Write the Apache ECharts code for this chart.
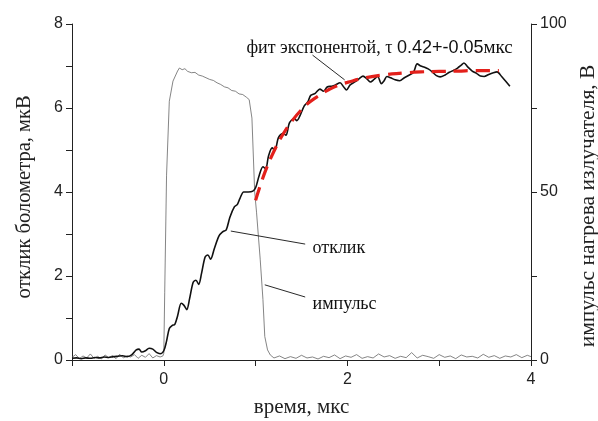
<!DOCTYPE html>
<html>
<head>
<meta charset="utf-8">
<script src="https://cdn.jsdelivr.net/npm/echarts@6/dist/echarts.min.js"></script>
<style>
html,body{margin:0;padding:0;background:#fff;}
#chart{width:598px;height:421px;}
</style>
</head>
<body>
<div id="chart"></div>
<script>
// ---- data ----
var xTicks = [-1, 0, 1, 2, 3, 4];
var xLabels = ['', '0', '', '2', '', '4'];
var leftLabels = ['0', '', '2', '', '4', '', '6', '', '8'];
var rightLabels = {0: '0', 50: '50', 100: '100'};

// bolometer response, мкВ (left axis)
var responseX = [-1.00,-0.95,-0.90,-0.85,-0.80,-0.75,-0.70,-0.65,-0.60,-0.55,-0.50,-0.45,-0.40,-0.35,-0.30,-0.27,-0.24,-0.20,-0.16,-0.12,-0.08,-0.04,0.00,0.03,0.06,0.09,0.12,0.15,0.19,0.22,0.25,0.28,0.32,0.35,0.38,0.41,0.45,0.48,0.51,0.55,0.60,0.64,0.68,0.72,0.77,0.80,0.83,0.87,0.92,0.97,1.00,1.04,1.08,1.11,1.14,1.18,1.21,1.25,1.30,1.33,1.37,1.42,1.45,1.48,1.53,1.57,1.60,1.65,1.70,1.74,1.78,1.83,1.87,1.92,1.96,1.99,2.03,2.08,2.13,2.17,2.21,2.25,2.29,2.33,2.37,2.40,2.43,2.47,2.52,2.57,2.62,2.67,2.72,2.76,2.80,2.84,2.88,2.93,2.97,3.01,3.06,3.11,3.16,3.20,3.24,3.27,3.31,3.36,3.41,3.45,3.49,3.54,3.59,3.63,3.68,3.72,3.77];
var responseY = [0.04,0.05,0.03,0.05,0.04,0.06,0.05,0.07,0.06,0.08,0.09,0.10,0.08,0.12,0.24,0.26,0.19,0.22,0.28,0.26,0.18,0.15,0.22,0.45,0.75,0.82,0.85,1.05,1.35,1.30,1.20,1.45,1.85,1.90,1.80,2.05,2.45,2.50,2.40,2.65,2.95,3.05,3.10,3.40,3.65,3.70,3.85,4.00,4.00,4.02,4.10,4.40,4.60,4.55,4.85,5.05,5.00,5.30,5.40,5.35,5.65,5.75,5.70,5.80,6.05,6.15,6.30,6.35,6.45,6.40,6.50,6.52,6.55,6.60,6.50,6.43,6.55,6.62,6.70,6.76,6.70,6.62,6.68,6.75,6.58,6.65,6.75,6.72,6.67,6.65,6.72,6.78,6.85,7.05,7.00,6.97,6.93,6.85,6.77,6.74,6.78,6.85,6.90,6.95,7.02,7.07,6.98,6.88,6.82,6.76,6.75,6.80,6.84,6.86,6.75,6.65,6.52];

// exponential fit, мкВ (left axis)
var fitX = [1.00,1.10,1.20,1.30,1.40,1.50,1.60,1.70,1.80,1.90,2.00,2.20,2.40,2.60,2.80,3.00,3.20,3.40,3.65];
var fitY = [3.80,4.46,4.97,5.38,5.70,5.96,6.16,6.31,6.44,6.54,6.61,6.72,6.79,6.83,6.86,6.87,6.88,6.89,6.89];

// heater pulse, В (right axis)
var pulseX = [-1.00,-0.96,-0.92,-0.88,-0.84,-0.80,-0.76,-0.72,-0.68,-0.64,-0.60,-0.56,-0.52,-0.48,-0.44,-0.40,-0.36,-0.32,-0.28,-0.24,-0.20,-0.16,-0.12,-0.08,-0.04,-0.01,0.00,0.01,0.03,0.06,0.10,0.15,0.17,0.20,0.23,0.26,0.30,0.34,0.38,0.42,0.46,0.50,0.54,0.58,0.62,0.66,0.70,0.74,0.78,0.82,0.86,0.90,0.93,0.96,0.99,1.01,1.03,1.05,1.08,1.10,1.13,1.16,1.20,1.26,1.32,1.38,1.44,1.50,1.56,1.62,1.68,1.74,1.80,1.86,1.92,1.98,2.04,2.10,2.16,2.22,2.28,2.34,2.40,2.46,2.52,2.58,2.64,2.70,2.76,2.82,2.88,2.94,3.00,3.06,3.12,3.18,3.24,3.30,3.36,3.42,3.48,3.54,3.60,3.66,3.72,3.78,3.84,3.90,3.96,4.00];
var pulseY = [0.8,1.6,0.4,1.2,0.6,1.8,0.5,1.1,0.3,1.5,0.7,1.3,0.4,1.7,0.6,1.2,0.9,1.6,0.5,1.4,0.8,1.9,0.6,1.3,0.9,1.2,2.0,20,55,77,83,86,86.9,86.4,86.7,85.9,85.5,85.6,84.8,84.5,84.0,83.5,83.2,82.5,82.0,81.3,81.0,80.2,80.0,79.2,79.0,78.2,77.5,72,50,44,37,30,18,7,3,1.5,0.6,1.2,0.4,1.0,0.5,1.4,0.6,0.9,0.3,1.1,0.7,1.5,0.4,1.2,0.8,1.6,0.5,1.0,0.6,1.8,0.9,1.3,0.5,1.1,0.7,2.2,0.6,1.4,1.0,0.5,1.6,0.8,1.2,0.4,1.5,0.9,1.1,0.6,1.7,0.8,1.3,0.5,1.2,0.9,1.6,0.7,1.4,1.0];

// annotations: text anchors and arrows in data units (left axis)
var fitLabelAt = [0.90, 7.43];
var responseLabelAt = [1.62, 2.67];
var pulseLabelAt = [1.62, 1.33];
var fitArrow = [[1.62, 7.26], [1.97, 6.67]];
var responseArrow = [[1.54, 2.76], [0.73, 3.07]];
var pulseArrow = [[1.54, 1.50], [1.10, 1.79]];

function zip(xs, ys) { return xs.map(function (x, i) { return [x, ys[i]]; }); }

var SERIF = '"Liberation Serif", "Times New Roman", serif';
var SANS = '"Liberation Sans", Arial, sans-serif';
var AX = '#222';

var chart = echarts.init(document.getElementById('chart'), null, {renderer: 'canvas'});
chart.setOption({
  backgroundColor: '#fff',
  animation: false,
  grid: {left: 72, right: 67, top: 24, bottom: 61, outerBoundsMode: 'none', containLabel: false},
  xAxis: {
    type: 'value', min: -1, max: 4, interval: 1,
    name: 'время, мкс', nameLocation: 'middle', nameGap: 37,
    nameTextStyle: {fontFamily: SERIF, fontSize: 21, color: AX},
    axisLine: {onZero: false, lineStyle: {color: AX, width: 1}},
    axisTick: {show: true, length: 6, lineStyle: {color: AX}},
    axisLabel: {margin: 12, fontFamily: SANS, fontSize: 16, color: AX,
      formatter: function (v) { var i = xTicks.indexOf(Math.round(v)); return i >= 0 ? xLabels[i] : ''; }},
    splitLine: {show: false}
  },
  yAxis: [{
    type: 'value', min: 0, max: 8, interval: 1, position: 'left',
    name: 'отклик болометра, мкВ', nameLocation: 'middle', nameGap: 37, nameRotate: 90,
    nameTextStyle: {fontFamily: SERIF, fontSize: 20.5, color: AX, padding: [0, 10, 0, 0]},
    axisLine: {show: true, onZero: false, lineStyle: {color: AX, width: 1}},
    axisTick: {show: true, length: 6, lineStyle: {color: AX}},
    axisLabel: {margin: 9, fontFamily: SANS, fontSize: 16, color: AX,
      formatter: function (v) { return leftLabels[Math.round(v)] || ''; }},
    splitLine: {show: false}
  }, {
    type: 'value', min: 0, max: 100, interval: 25, position: 'right',
    name: 'импульс нагрева излучателя, В', nameLocation: 'middle', nameGap: 34, nameRotate: 90,
    nameTextStyle: {fontFamily: SERIF, fontSize: 21.5, color: AX, padding: [0, 28, 0, 0]},
    axisLine: {show: true, onZero: false, lineStyle: {color: AX, width: 1}},
    axisTick: {show: true, length: 6, lineStyle: {color: AX}},
    axisLabel: {margin: 9, fontFamily: SANS, fontSize: 16, color: AX,
      formatter: function (v) { return rightLabels[Math.round(v)] || ''; }},
    splitLine: {show: false}
  }],
  series: [{
    name: 'импульс', type: 'line', yAxisIndex: 1, data: zip(pulseX, pulseY),
    showSymbol: false, symbol: 'none', smooth: false,
    lineStyle: {color: '#666', width: 0.8}, z: 2
  }, {
    name: 'отклик', type: 'line', yAxisIndex: 0, data: zip(responseX, responseY),
    showSymbol: false, symbol: 'none', smooth: 0.3,
    lineStyle: {color: '#111', width: 1.6}, z: 3,
    markLine: {
      silent: true, symbol: ['none', 'arrow'], symbolSize: [0, 8],
      lineStyle: {color: '#111', width: 0.9, type: 'solid'},
      label: {show: false},
      data: [
        [{coord: fitArrow[0]}, {coord: fitArrow[1]}],
        [{coord: responseArrow[0]}, {coord: responseArrow[1]}],
        [{coord: pulseArrow[0]}, {coord: pulseArrow[1]}]
      ]
    },
    markPoint: {
      silent: true, symbol: 'circle', symbolSize: 0,
      label: {show: true, position: 'right', distance: 0, color: '#111',
        fontFamily: SERIF, fontSize: 18},
      data: [
        {coord: responseLabelAt, label: {formatter: 'отклик'}},
        {coord: pulseLabelAt, label: {formatter: 'импульс'}},
        {coord: fitLabelAt, label: {
          formatter: '{a|фит экспонентой, τ }{b|0.42+-0.05}{c|мкс}',
          rich: {
            a: {fontFamily: SERIF, fontSize: 18, color: '#111'},
            b: {fontFamily: SANS, fontSize: 18, color: '#111'},
            c: {fontFamily: SERIF, fontSize: 19, color: '#111'}
          }
        }}
      ]
    }
  }, {
    name: 'фит', type: 'line', yAxisIndex: 0, data: zip(fitX, fitY),
    showSymbol: false, symbol: 'none', smooth: true,
    lineStyle: {color: '#e3201b', width: 3.2, type: [14, 8]}, z: 4
  }]
});
</script>
</body>
</html>
